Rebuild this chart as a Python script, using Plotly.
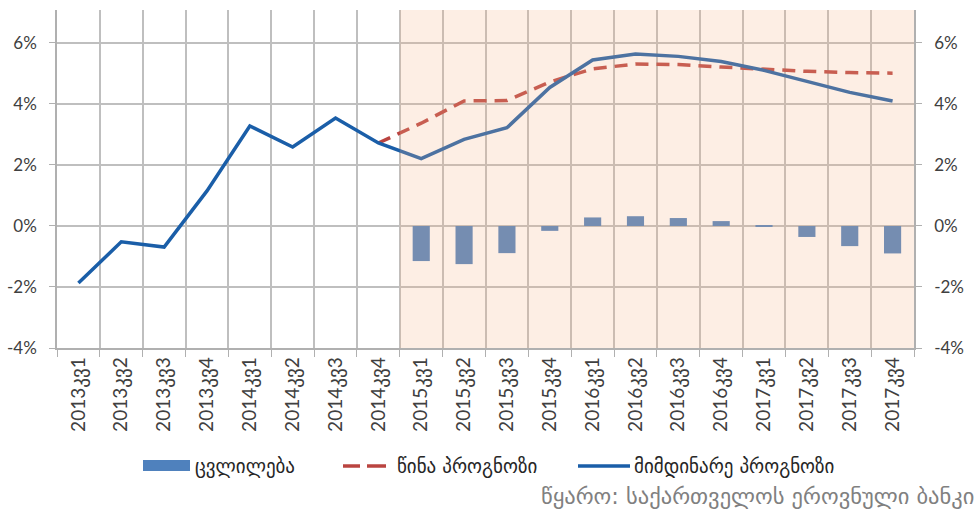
import plotly.graph_objects as go

# Quarters 2013 Q1 .. 2017 Q4
quarters = [f"{y}კვ{q}" for y in range(2013, 2018) for q in range(1, 5)]

# Current forecast (actual data through 2014 Q4, forecast afterwards), %
current = [-1.87, -0.52, -0.69, 1.15, 3.28, 2.59, 3.54, 2.72,
           2.21, 2.84, 3.22, 4.54, 5.44, 5.64, 5.56, 5.39,
           5.10, 4.73, 4.38, 4.10]

# Previous forecast, %
previous = [None, None, None, None, None, None, None, 2.72,
            3.37, 4.10, 4.11, 4.72, 5.15, 5.31, 5.29, 5.21,
            5.13, 5.07, 5.03, 5.01]

# Revision between forecasts, percentage points
change = [None] * 8 + [-1.15, -1.25, -0.89, -0.16, 0.28, 0.32, 0.26, 0.16,
                       -0.03, -0.36, -0.66, -0.90]

y_ticks = [-4, -2, 0, 2, 4, 6]
y_labels = [f"{v}%" for v in y_ticks]

series_names = ["ცვლილება", "წინა პროგნოზი", "მიმდინარე პროგნოზი"]
source_text = "წყარო: საქართველოს ეროვნული ბანკი"

BAR_COLOR = "#4f81bd"
PREV_COLOR = "#ba4440"
CUR_COLOR = "#1a5ea8"

ylabel_font = dict(family="Lato, 'DejaVu Sans', sans-serif", size=17, color="#404040")
xlabel_font = dict(family="Lato, 'DejaVu Sans', sans-serif", size=19, color="#404040")
legend_font = dict(family="'DejaVu Sans', sans-serif", size=19, color="#262626")

W, H = 976, 511
ML, MR, MT, MB = 57, 62, 10, 163
PW, PH = W - ML - MR, H - MT - MB


def px(x):
    return (x - ML) / PW


def py(y):
    return (H - MB - y) / PH


fig = go.Figure()
fig.add_trace(go.Bar(
    x=quarters, y=change, name=series_names[0],
    marker=dict(color=BAR_COLOR, line=dict(width=0)), width=0.4,
))
fig.add_trace(go.Scatter(
    x=quarters, y=previous, name=series_names[1], mode="lines",
    line=dict(color=PREV_COLOR, width=3.5, dash="13px,8px"),
))
fig.add_trace(go.Scatter(
    x=quarters, y=current, name=series_names[2], mode="lines",
    line=dict(color=CUR_COLOR, width=3.5),
))
# Secondary (right-hand) axis carries the same scale; an invisible copy keeps it drawn
fig.add_trace(go.Scatter(
    x=quarters, y=current, yaxis="y2", mode="lines", opacity=0,
    line=dict(width=0), hoverinfo="skip", showlegend=False,
))

# Forecast horizon shading
fig.add_shape(
    type="rect", xref="x", yref="paper", x0=7.5, x1=19.5, y0=0, y1=1,
    fillcolor="rgba(245,180,140,0.23)", line=dict(width=0), layer="above",
)

# Legend row
leg_y = 466
fig.add_shape(type="rect", xref="paper", yref="paper",
              x0=px(143), x1=px(190), y0=py(471), y1=py(460),
              fillcolor=BAR_COLOR, line=dict(width=0))
for a, b in [(343, 360), (367, 386)]:
    fig.add_shape(type="line", xref="paper", yref="paper",
                  x0=px(a), x1=px(b), y0=py(leg_y), y1=py(leg_y),
                  line=dict(color=PREV_COLOR, width=3.5))
fig.add_shape(type="line", xref="paper", yref="paper",
              x0=px(578), x1=px(630), y0=py(leg_y), y1=py(leg_y),
              line=dict(color=CUR_COLOR, width=3.5))
for name, x0 in zip(series_names, [193, 395, 632]):
    fig.add_annotation(text=name, xref="paper", yref="paper",
                       x=px(x0), y=py(leg_y), xanchor="left", yanchor="middle",
                       showarrow=False, font=legend_font)

fig.add_annotation(
    text=source_text, xref="paper", yref="paper",
    x=px(976), y=py(496), xanchor="right", yanchor="middle", showarrow=False,
    font=dict(family="'DejaVu Sans', sans-serif", size=22.5, color="#808080"),
)

axis_common = dict(
    range=[-4, 7.08], tickmode="array", tickvals=y_ticks, ticktext=y_labels,
    showline=True, linecolor="#b0b0b0", linewidth=1.5,
    ticks="outside", ticklen=6, tickcolor="#b0b0b0",
    tickfont=ylabel_font, zeroline=False, ticklabelstandoff=9, automargin=False,
)

fig.update_layout(
    width=W, height=H,
    margin=dict(l=ML, r=MR, t=MT, b=MB),
    plot_bgcolor="white", paper_bgcolor="white",
    showlegend=False,
    xaxis=dict(
        type="category", tickson="boundaries", showgrid=True,
        gridcolor="#bfbfbf", gridwidth=1.5,
        showline=True, linecolor="#b0b0b0", linewidth=1.5,
        ticks="outside", ticklen=7, tickcolor="#b0b0b0",
        tickangle=-90, tickfont=xlabel_font, automargin=False,
    ),
    yaxis=dict(showgrid=True, gridcolor="#bfbfbf", gridwidth=1.5, **axis_common),
    yaxis2=dict(overlaying="y", side="right", showgrid=False, **axis_common),
)

fig.write_html("out.html")
